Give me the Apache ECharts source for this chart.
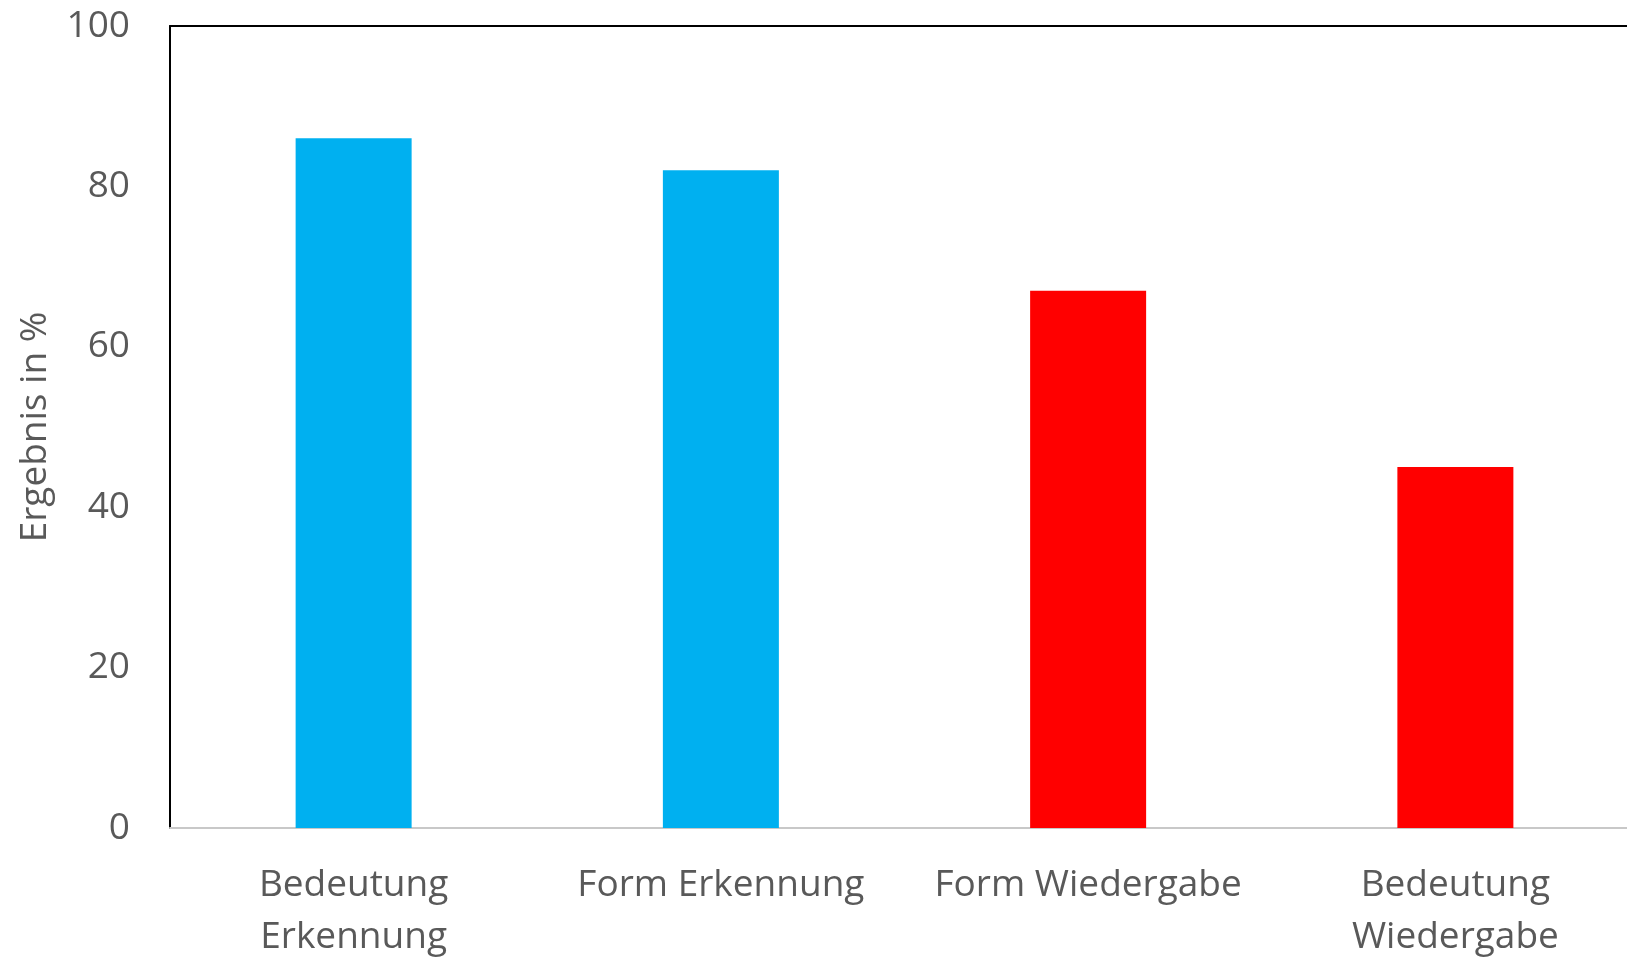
<!DOCTYPE html>
<html>
<head>
<meta charset="utf-8">
<script src="https://cdn.jsdelivr.net/npm/echarts@6/dist/echarts.min.js"></script>
<style>
	html, body { margin: 0; padding: 0; background: #fff; overflow: hidden; }
	#main { width: 1650px; height: 958px; }
</style>
</head>
<body>
<div id="main"></div>
<script>
// Werte
const categories = ['Bedeutung\nErkennung', 'Form Erkennung', 'Form Wiedergabe', 'Bedeutung\nWiedergabe'];
const values = [86, 82, 67, 45];
const barColors = ['#00B0F0', '#00B0F0', '#FF0000', '#FF0000'];
const yTicks = [0, 20, 40, 60, 80, 100];

const textColor = '#595959';
const fontFamily = '"Open Sans", sans-serif';

let myChart = echarts.init(document.getElementById('main'));
let option = {
	backgroundColor: '#fff',
	animation: false,
	grid: {
		left: 170,
		top: 26,
		right: 11,
		bottom: 130,
		outerBoundsMode: 'none'
	},
	xAxis: [{
		type: 'category',
		data: categories,
		axisTick: { show: false },
		axisLine: {
			lineStyle: { color: '#c8c8c8', width: 2 }
		},
		axisLabel: {
			color: textColor,
			fontFamily: fontFamily,
			fontSize: 37,
			lineHeight: 52,
			margin: 31,
			interval: 0
		}
	}, {
		// obere Rahmenlinie
		type: 'category',
		position: 'top',
		data: categories,
		axisTick: { show: false },
		axisLabel: { show: false },
		axisLine: {
			lineStyle: { color: '#000', width: 2 }
		}
	}],
	yAxis: {
		type: 'value',
		min: yTicks[0],
		max: yTicks[yTicks.length - 1],
		interval: yTicks[1] - yTicks[0],
		name: 'Ergebnis in %',
		nameLocation: 'middle',
		nameGap: 116,
		nameTextStyle: {
			color: textColor,
			fontFamily: fontFamily,
			fontSize: 37
		},
		splitLine: { show: false },
		axisTick: { show: false },
		axisLine: {
			show: true,
			lineStyle: { color: '#000', width: 2 }
		},
		axisLabel: {
			color: textColor,
			fontFamily: fontFamily,
			fontSize: 37,
			margin: 40
		}
	},
	series: [{
		name: 'Ergebnis',
		type: 'bar',
		barWidth: 116,
		data: values.map((v, i) => ({
			value: v,
			itemStyle: { color: barColors[i] }
		}))
	}]
};
myChart.setOption(option);
</script>
</body>
</html>
